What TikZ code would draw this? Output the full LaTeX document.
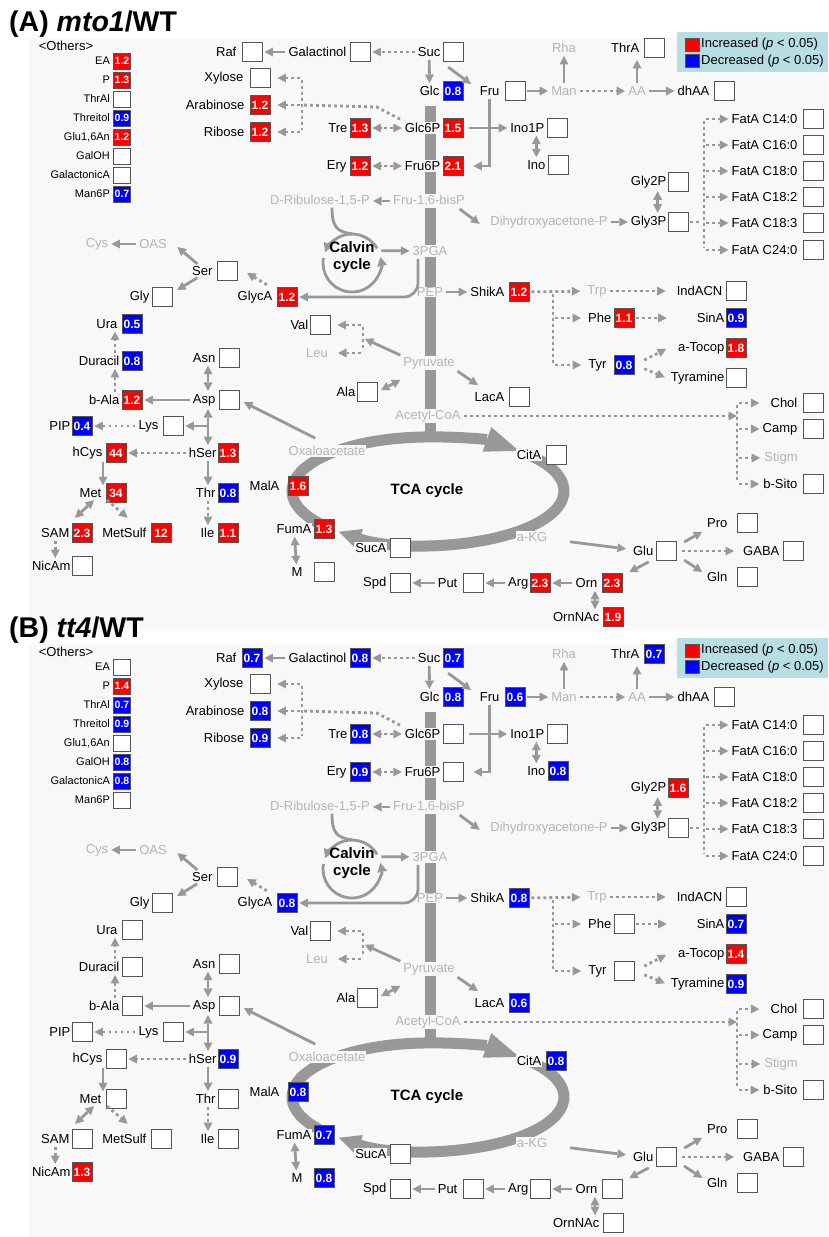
\documentclass[tikz,border=0pt]{standalone}
\usepackage{fontspec}
\setmainfont{Liberation Sans}
\usetikzlibrary{arrows.meta}

\definecolor{argray}{RGB}{152,152,152}
\definecolor{txgray}{RGB}{180,180,180}
\definecolor{bxgray}{RGB}{85,85,85}
\definecolor{panelbg}{RGB}{248,248,248}
\definecolor{legbg}{RGB}{183,222,226}
\definecolor{upred}{RGB}{255,0,0}
\definecolor{dnblue}{RGB}{0,0,255}

% fold changes: \setfc{id}{fcup|fcdown}{value}
\newcommand\setfc[3]{\expandafter\def\csname fc@#1\endcsname{#2}%
  \expandafter\def\csname fv@#1\endcsname{#3}}
\newcommand\fcval[1]{\ifcsname fv@#1\endcsname\csname fv@#1\endcsname\fi}

\tikzset{
  lbl/.style={font=\fontsize{13}{15}\selectfont, inner sep=1pt, fill=panelbg},
  glbl/.style={lbl, text=txgray},
  olbl/.style={font=\fontsize{11}{13}\selectfont, inner sep=1pt},
  fcbox/.style={draw=bxgray, line width=0.9pt, minimum width=20pt, minimum height=19pt,
    inner sep=0pt, font=\bfseries\fontsize{12}{12}\selectfont},
  ofcbox/.style={fcbox, minimum width=17pt, minimum height=16pt,
    font=\bfseries\fontsize{10.5}{10.5}\selectfont},
  fcup/.style={fill=upred, text=white},
  fcdown/.style={fill=dnblue, text=white},
  fcnone/.style={fill=white},
  fc/.code={\ifcsname fc@#1\endcsname
      \edef\fctmp{\csname fc@#1\endcsname}\expandafter\pgfkeysalso\expandafter{\fctmp}%
    \else\pgfkeysalso{fcnone}\fi},
  ar/.style={draw=argray, line width=2.8pt, ->, shorten >=2pt, shorten <=2pt},
  dar/.style={ar, <->},
  dt/.style={ar, dash pattern=on 2.8pt off 3.2pt},
  ddt/.style={dt, <->},
  dln/.style={dt, -},
  cyc/.style={draw=argray, line width=2.8pt},
  trunk/.style={draw=argray, line width=11pt},
  cyctx/.style={font=\bfseries\fontsize{15}{17}\selectfont, inner sep=0pt},
  ttl/.style={font=\bfseries\fontsize{28.5}{30}\selectfont, inner sep=0pt},
  keysq/.style={draw=bxgray, line width=0.5pt, minimum width=14pt, minimum height=13pt, inner sep=0pt},
  keytx/.style={font=\fontsize{13}{15}\selectfont, inner sep=0pt},
}

% metabolite: label left of its fold-change box
\newcommand\metab[4][1pt]{%
  \node[fcbox, fc=#2] (#2v) at (#3) {\fcval{#2}};
  \node[lbl, anchor=east] (#2) at ([xshift=-#1]#2v.west) {#4};}
\newcommand\othermetab[3]{%
  \node[ofcbox, fc=#1] (#1v) at (#2) {\fcval{#1}};
  \node[olbl, anchor=east] (#1) at ([xshift=-2pt]#1v.west) {#3};}

\newcommand\drawpathway[2]{%
  % panel, title and key
  \fill[panelbg] (29,38) rectangle (828,631);
  \node[ttl, anchor=base west] (ttl) at (9,31) {(#1) \textit{#2}/WT};
  \fill[legbg] (677,32) rectangle (828,72);
  \node[keysq, fill=upred] (kup) at (692,44.5) {};
  \node[keytx, anchor=west] (kupt) at (701,44.5) {Increased (\textit{p} < 0.05)};
  \node[keysq, fill=dnblue] (kdn) at (692,61) {};
  \node[keytx, anchor=west] (kdnt) at (701,61) {Decreased (\textit{p} < 0.05)};
  % trunk and TCA cycle
  \draw[trunk] (430,106) -- (430,437);
  \coordinate (tca) at (428,491);
  \draw[trunk, -{Triangle[length=34pt,width=26pt,line width=0pt]}]
    ([shift={(200:136 and 54)}]tca) arc[start angle=200, end angle=312, x radius=136, y radius=54];
  \draw[trunk, -{Triangle[length=22pt,width=21pt,line width=0pt]}]
    ([shift={(318:136 and 54)}]tca) arc[start angle=318, end angle=491, x radius=136, y radius=54];
  \draw[trunk] ([shift={(140:136 and 54)}]tca) arc[start angle=140, end angle=205, x radius=136, y radius=54];
  \node[cyctx] (tcat) at (427,491) {TCA cycle};
  % Calvin cycle
  \node[circle, minimum size=58pt, inner sep=0pt] (cal) at (352,263) {};
  \draw[cyc, -{Triangle[length=9pt,width=10pt,line width=0pt]}]
    ([shift={(330:29)}]cal.center) arc[start angle=330, end angle=202, radius=29];
  \draw[cyc, -{Triangle[length=9pt,width=10pt,line width=0pt]}]
    ([shift={(190:29)}]cal.center) arc[start angle=190, end angle=-12, radius=29];
  \node[cyctx, align=center] (calt) at (352,257) {Calvin\\cycle};
  % others
  \node[lbl] (oth) at (66,46) {<Others>};
  \othermetab{EA}{122,61}{EA}
  \othermetab{P}{122,80}{P}
  \othermetab{ThrAl}{122,99}{ThrAl}
  \othermetab{Threitol}{122,118}{Threitol}
  \othermetab{GluAn}{122,137}{Glu1,6An}
  \othermetab{GalOH}{122,156}{GalOH}
  \othermetab{GalA}{122,175}{GalactonicA}
  \othermetab{ManP}{122,194}{Man6P}
  % sugars
  \metab[4pt]{Raf}{252,52}{Raf}
  \metab[5pt]{Xyl}{260,78}{Xylose}
  \metab[4pt]{Ara}{260,105}{Arabinose}
  \metab[4pt]{Rib}{260,132}{Ribose}
  \metab[2pt]{Gal}{360,52}{Galactinol}
  \metab{Suc}{453,52}{Suc}
  \metab[2pt]{Glc}{453,91}{Glc}
  \metab[4pt]{Fru}{515,91}{Fru}
  \metab{Tre}{360,128}{Tre}
  \metab{Glc6P}{453,128}{Glc6P}
  \metab[2pt]{Ery}{360,166}{Ery}
  \metab{Fru6P}{453,166}{Fru6P}
  \metab{Ino1P}{557,128}{Ino1P}
  \metab{Ino}{558,165}{Ino}
  \metab[3pt]{ThrA}{654,48}{ThrA}
  \metab[3pt]{dhAA}{724,91}{dhAA}
  \node[glbl] (Rha) at (564,48) {Rha};
  \node[glbl] (Man) at (564,91) {Man};
  \node[glbl] (AA) at (637,91) {AA};
  % fatty acids and glycerol
  \metab[4pt]{FA140}{813,119}{FatA C14:0}
  \metab[4pt]{FA160}{813,145}{FatA C16:0}
  \metab[4pt]{FA180}{813,171}{FatA C18:0}
  \metab[4pt]{FA182}{813,197}{FatA C18:2}
  \metab[4pt]{FA183}{813,223}{FatA C18:3}
  \metab[4pt]{FA240}{813,250}{FatA C24:0}
  \metab[0pt]{Gly2P}{678,182}{Gly2P}
  \metab[0pt]{Gly3P}{678,222}{Gly3P}
  % trunk intermediates
  \node[glbl] (DRib) at (320,201) {D-Ribulose-1,5-P};
  \node[glbl] (FruBP) at (429,201) {Fru-1,6-bisP};
  \node[glbl] (DHAP) at (549,222) {Dihydroxyacetone-P};
  \node[glbl] (PGA) at (430,251) {3PGA};
  \node[glbl] (PEP) at (430,292) {PEP};
  \node[glbl] (Pyr) at (429,363) {Pyruvate};
  \node[glbl] (AcCoA) at (428,416) {Acetyl-CoA};
  \node[glbl] (OAA) at (327,451) {Oxaloacetate};
  \node[glbl] (aKG) at (532,537) {a-KG};
  % amino acids, left
  \node[glbl] (Cys) at (97,244) {Cys};
  \node[glbl] (OAS) at (153,244) {OAS};
  \metab[3pt]{Ser}{227,271}{Ser}
  \metab{Gly}{162,297}{Gly}
  \metab[3pt]{GlycA}{287,297}{GlycA}
  \metab[3pt]{Ura}{132,324}{Ura}
  \metab{Duracil}{132,361}{Duracil}
  \metab{bAla}{132,400}{b-Ala}
  \metab[2pt]{Asn}{229,358}{Asn}
  \metab[2pt]{Asp}{229,400}{Asp}
  \metab[3pt]{Lys}{173,426}{Lys}
  \metab[0pt]{PIP}{82,426}{PIP}
  \metab[2pt]{hCys}{116,453}{hCys}
  \metab[0pt]{hSer}{228,453}{hSer}
  \metab[3pt]{Met}{116,493}{Met}
  \metab{Thr}{228,493}{Thr}
  \metab{SAM}{82,533}{SAM}
  \metab[3pt]{MetSulf}{161,533}{MetSulf}
  \metab[2pt]{Ile}{228,533}{Ile}
  \metab[0pt]{NicAm}{82,566}{NicAm}
  % shikimate branch
  \metab[3pt]{ShikA}{519,292}{ShikA}
  \node[glbl] (Trp) at (597,291) {Trp};
  \metab[2pt]{IndACN}{736,291}{IndACN}
  \metab{Phe}{624,318}{Phe}
  \metab[0pt]{SinA}{736,318}{SinA}
  \metab[6pt]{Tyr}{624,365}{Tyr}
  \metab[0pt]{aTocop}{736,348}{a-Tocop}
  \metab[0pt]{Tyramine}{736,378}{Tyramine}
  % pyruvate branch and sterols
  \metab[0pt]{Val}{320,325}{Val}
  \node[glbl] (Leu) at (317,353) {Leu};
  \metab[0pt]{Ala}{367,392}{Ala}
  \metab[3pt]{LacA}{519,397}{LacA}
  \metab[4pt]{Chol}{813,403}{Chol}
  \metab[4pt]{Camp}{813,429}{Camp}
  \node[glbl] (Stigm) at (781,458) {Stigm};
  \metab[4pt]{bSito}{813,484}{b-Sito}
  % TCA and glutamate family
  \metab[3pt]{CitA}{556,455}{CitA}
  \metab[7pt]{MalA}{298,486}{MalA}
  \metab{FumA}{324,529}{FumA}
  \metab[10pt]{M}{324,572}{M}
  \metab[2pt]{SucA}{400,548}{SucA}
  \metab[2pt]{Spd}{400,583}{Spd}
  \metab[4pt]{Put}{473,583}{Put}
  \metab[0pt]{Arg}{540,583}{Arg}
  \metab[3pt]{Orn}{612,583}{Orn}
  \metab[2pt]{OrnNAc}{613,617}{OrnNAc}
  \metab{Glu}{666,551}{Glu}
  \metab[8pt]{Pro}{747,523}{Pro}
  \metab[2pt]{GABA}{793,551}{GABA}
  \metab[8pt]{Gln}{747,577}{Gln}
  % connectors: sugars
  \draw[ar] (Gal) -- (Rafv);
  \draw[dt] (Suc) -- (Galv);
  \draw[ar] (Suc) -- (Glc);
  \draw[ar] ([shift={(4,4)}]Sucv.south west) -- ([shift={(-6,0)}]Fru.north west);
  \draw[ar] (Fruv) -- (Man);
  \draw[ar] (Man) -- (Rha);
  \draw[dt] (Man) -- (AA);
  \draw[ar] (AA) -- (AA |- ThrAv.south);
  \draw[ar] (AA) -- (dhAA);
  \draw[ddt] (Glc6P) -- (Trev);
  \draw[ddt] (Fru6P) -- (Eryv);
  \draw[ar, shorten <=6pt] (Glc6Pv) -- (Ino1P);
  \draw[ar, shorten >=10pt] (Fru) |- (Fru6Pv);
  \draw[dar] (Ino) -- (Ino |- Ino1P.south);
  \coordinate (sj) at (302,105);
  \draw[dln] ([shift={(-2,-2)}]Glc6P.north west) -- ++(-25,-13) -- (sj);
  \draw[dln] (sj |- Xylv) -- (sj |- Ribv);
  \draw[dt, shorten >=7pt] (sj) -- (Arav);
  \draw[dt, shorten >=7pt] (sj |- Xylv) -- (Xylv);
  \draw[dt, shorten >=7pt] (sj |- Ribv) -- (Ribv);
  % trunk side branches
  \draw[ar] (FruBP) -- (DRib);
  \draw[ar] ([shift={(-8,0)}]FruBP.south east) -- ([shift={(-8,3)}]DHAP.west);
  \draw[ar] (DHAP) -- (Gly3P);
  \draw[dar] ([xshift=9pt]Gly3P.north) -- ([xshift=9pt]Gly2P.south);
  \coordinate (fa) at (704,222);
  \draw[dln] (Gly3Pv) -- (fa);
  \draw[dln] (fa |- FA140) -- (fa |- FA240);
  \foreach \f in {FA140,FA160,FA180,FA182,FA183,FA240}
    \draw[dt] (fa |- \f) -- (\f);
  \draw[cyc] ([xshift=12pt]DRib.south) .. controls +(0,18) and +(-16,-2) .. (cal.north);
  \draw[ar, shorten <=3pt] (cal.25) -- (PGA);
  \draw[ar, rounded corners=14pt] ([xshift=-12pt]PGA.south) |- (GlycAv);
  \draw[ar] (PEP) -- (ShikA);
  \coordinate (sk) at (553,292);
  \draw[dt, shorten >=6pt] (ShikAv) -- (Trp);
  \draw[dln] (sk) -- (sk |- Tyr);
  \draw[dt, shorten >=6pt] (sk |- Phe) -- (Phe);
  \draw[dt, shorten >=6pt] (sk |- Tyr) -- (Tyr);
  \draw[dt, shorten >=10pt] (Trp) -- (IndACN);
  \draw[dt, shorten >=29pt] (Phev) -- (SinA);
  \draw[dt] ([shift={(8,-4)}]Tyrv.east) -- ([shift={(-9,0)}]aTocop.west);
  \draw[dt] ([shift={(8,3)}]Tyrv.east) -- ([shift={(-3,0)}]Tyramine.west);
  \coordinate (vl) at (363,338);
  \draw[ar] (Pyr.north west) -- (vl);
  \draw[dln] (vl |- Valv) -- (vl |- Leu);
  \draw[dt, shorten >=7pt] (vl |- Valv) -- (Valv);
  \draw[dt, shorten >=9pt] (vl |- Leu) -- (Leu);
  \draw[dar, shorten <=4pt] (Alav.east) -- ([shift={(0,9)}]Pyr.south west);
  \draw[ar] (Pyr.south east) -- ([shift={(6,-5)}]LacA.north west);
  \coordinate (st) at (737,416);
  \draw[dt, shorten >=0pt] (AcCoA) -- (st);
  \draw[dln] (st |- Chol) -- (st |- bSito);
  \draw[dt, shorten >=10pt] (st |- Chol) -- (Chol);
  \draw[dt] (st |- Camp) -- (Camp);
  \draw[dt, shorten >=3pt] (st |- Stigm) -- (Stigm);
  \draw[dt, shorten >=3pt] (st |- bSito) -- (bSito);
  % connectors: amino acids
  \draw[ar] ([shift={(8,0)}]Ser.north west) -- ([shift={(8,-4)}]OAS.south east);
  \draw[ar] (OAS) -- (Cys);
  \draw[ar] ([shift={(8,0)}]Ser.south west) -- ([shift={(3,4)}]Glyv.north east);
  \draw[dt] ([shift={(-5,-4)}]GlycA.north east) -- ([shift={(8,1)}]Serv.east);
  \coordinate (ux) at (115,0);
  \draw[dt] (bAla.north -| ux) -- (Duracil.south -| ux);
  \draw[dt] (Duracil.north -| ux) -- (Ura.south -| ux);
  \draw[ar, shorten >=5pt] ([shift={(-10,-6)}]OAA.north) -- (Aspv.east);
  \coordinate (ax) at (208,0);
  \draw[dar] (Asp.north -| ax) -- (Asn.south -| ax);
  \draw[ar] (Asp) -- (bAlav);
  \draw[dar] (Asp.south -| ax) -- (hSer.north -| ax);
  \draw[ar, shorten <=0pt] (Lysv -| ax) -- (Lysv);
  \draw[dt] (Lys) -- (PIPv);
  \draw[dt] (hSer) -- (hCysv);
  \draw[ar] (hSer.south -| ax) -- (Thr.north -| ax);
  \draw[dt] (Thr.south -| ax) -- (Ile.north -| ax);
  \coordinate (mx) at (103,0);
  \draw[ar] (hCys.south -| mx) -- (Met.north -| mx);
  \draw[dar] ([xshift=5pt]Met.south) -- ([shift={(3,-8)}]SAM.north east);
  \draw[dt] ([xshift=15pt]Met.south) -- ([shift={(28,-8)}]MetSulf.north west);
  \draw[dt] (SAM) -- (SAM |- NicAm.north);
  % connectors: TCA and glutamate
  \draw[dar] (FumA) -- (M);
  \draw[ar, shorten <=22pt, shorten >=6pt] (aKG) -- (Glu);
  \draw[ar] ([shift={(6,2)}]Gluv.north east) -- ([shift={(-2,2)}]Pro.south west);
  \draw[dt, shorten <=6pt, shorten >=8pt] (Gluv) -- (GABA);
  \draw[ar] ([shift={(6,-2)}]Gluv.south east) -- ([shift={(-2,2)}]Gln.north west);
  \draw[ar] ([xshift=-5pt]Gluv.south west) -- ([xshift=5pt]Ornv.north east);
  \draw[ar] (Orn) -- (Argv);
  \draw[ar] (Arg) -- (Putv);
  \draw[ar] (Put) -- (Spdv);
  \coordinate (ox) at (595,0);
  \draw[dar] (Orn.south -| ox) -- (OrnNAc.north -| ox);
}

\begin{document}
\begin{tikzpicture}[x=1pt, y=-1pt, >={Triangle[length=8.5pt,width=9pt,line width=0pt]}]
\useasboundingbox (0,0) rectangle (828,1237);
% (A) mto1
\begin{scope}[name prefix=a-]
  \setfc{EA}{fcup}{1.2}\setfc{P}{fcup}{1.3}\setfc{Threitol}{fcdown}{0.9}
  \setfc{GluAn}{fcup}{1.2}\setfc{ManP}{fcdown}{0.7}
  \setfc{Ara}{fcup}{1.2}\setfc{Rib}{fcup}{1.2}\setfc{Glc}{fcdown}{0.8}
  \setfc{Tre}{fcup}{1.3}\setfc{Glc6P}{fcup}{1.5}\setfc{Ery}{fcup}{1.2}\setfc{Fru6P}{fcup}{2.1}
  \setfc{GlycA}{fcup}{1.2}\setfc{ShikA}{fcup}{1.2}\setfc{Phe}{fcup}{1.1}
  \setfc{SinA}{fcdown}{0.9}\setfc{Tyr}{fcdown}{0.8}\setfc{aTocop}{fcup}{1.8}
  \setfc{Ura}{fcdown}{0.5}\setfc{Duracil}{fcdown}{0.8}\setfc{bAla}{fcup}{1.2}\setfc{PIP}{fcdown}{0.4}
  \setfc{hCys}{fcup}{44}\setfc{hSer}{fcup}{1.3}\setfc{Met}{fcup}{34}\setfc{Thr}{fcdown}{0.8}
  \setfc{SAM}{fcup}{2.3}\setfc{MetSulf}{fcup}{12}\setfc{Ile}{fcup}{1.1}
  \setfc{MalA}{fcup}{1.6}\setfc{FumA}{fcup}{1.3}\setfc{Arg}{fcup}{2.3}
  \setfc{Orn}{fcup}{2.3}\setfc{OrnNAc}{fcup}{1.9}
  \drawpathway{A}{mto1}
\end{scope}
% (B) tt4
\begin{scope}[yshift=-606pt, name prefix=b-]
  \setfc{P}{fcup}{1.4}\setfc{ThrAl}{fcdown}{0.7}\setfc{Threitol}{fcdown}{0.9}
  \setfc{GalOH}{fcdown}{0.8}\setfc{GalA}{fcdown}{0.8}
  \setfc{Raf}{fcdown}{0.7}\setfc{Ara}{fcdown}{0.8}\setfc{Rib}{fcdown}{0.9}\setfc{Gal}{fcdown}{0.8}
  \setfc{Suc}{fcdown}{0.7}\setfc{Glc}{fcdown}{0.8}\setfc{Fru}{fcdown}{0.6}
  \setfc{Tre}{fcdown}{0.8}\setfc{Ery}{fcdown}{0.9}\setfc{Ino}{fcdown}{0.8}\setfc{ThrA}{fcdown}{0.7}
  \setfc{Gly2P}{fcup}{1.6}
  \setfc{GlycA}{fcdown}{0.8}\setfc{ShikA}{fcdown}{0.8}\setfc{SinA}{fcdown}{0.7}
  \setfc{aTocop}{fcup}{1.4}\setfc{Tyramine}{fcdown}{0.9}\setfc{LacA}{fcdown}{0.6}
  \setfc{CitA}{fcdown}{0.8}\setfc{MalA}{fcdown}{0.8}\setfc{FumA}{fcdown}{0.7}\setfc{M}{fcdown}{0.8}
  \setfc{hSer}{fcdown}{0.9}\setfc{NicAm}{fcup}{1.3}
  \drawpathway{B}{tt4}
\end{scope}
\end{tikzpicture}
\end{document}
